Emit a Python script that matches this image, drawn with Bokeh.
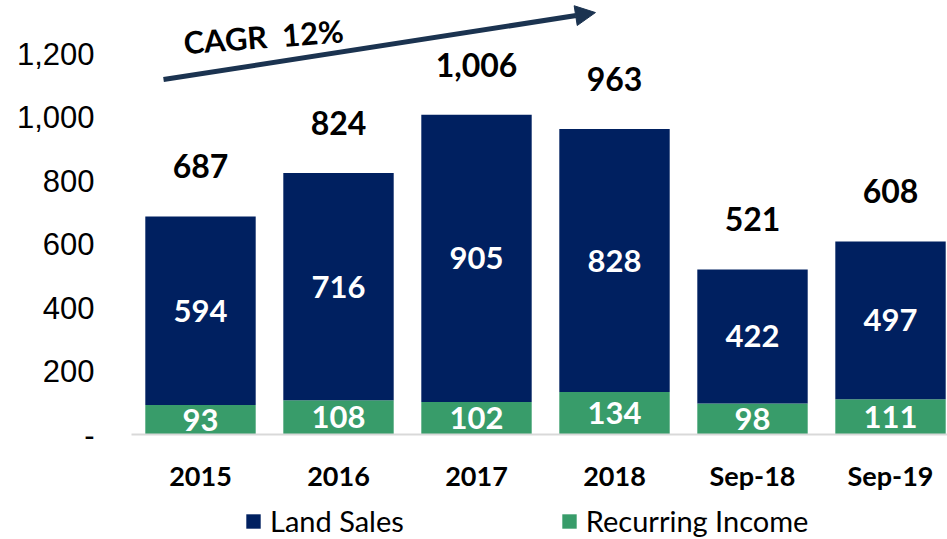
from bokeh.plotting import figure
from bokeh.layouts import column
from bokeh.models import (ColumnDataSource, Legend, LegendItem, FixedTicker,
                          Arrow, NormalHead, Label, Range1d)
from bokeh.core.properties import value
from bokeh.embed import file_html
from bokeh.resources import INLINE

categories = ["2015", "2016", "2017", "2018", "Sep-18", "Sep-19"]
land_sales = [594, 716, 905, 828, 422, 497]
recurring_income = [93, 108, 102, 134, 98, 111]
totals_text = ["687", "824", "1,006", "963", "521", "608"]
y_ticks = [0, 200, 400, 600, 800, 1000, 1200]
y_tick_labels = ["-", "200", "400", "600", "800", "1,000", "1,200"]
cagr_text = "CAGR\u00a0\u00a012%"
series_names = ["Land Sales", "Recurring Income"]

NAVY = "#002060"
GREEN = "#389C6A"
ARROW = "#1B3350"
FONT_B = "Lato"

xs = list(range(len(categories)))
tops = [a + b for a, b in zip(land_sales, recurring_income)]
src = ColumnDataSource(dict(
    x=xs,
    rec=recurring_income,
    land=land_sales,
    top=tops,
    mid_land=[r + l / 2 for r, l in zip(recurring_income, land_sales)],
    mid_rec=[r / 2 for r in recurring_income],
    land_txt=[str(v) for v in land_sales],
    rec_txt=[str(v) for v in recurring_income],
    tot_txt=totals_text,
))

p = figure(width=947, height=497, x_range=Range1d(-0.5, 5.413),
           y_range=Range1d(0, 1367), output_backend="svg",
           toolbar_location=None, min_border_left=131, min_border_right=0,
           min_border_top=0, min_border_bottom=63)
p.outline_line_color = None
p.grid.visible = False

p.vbar(x="x", bottom=0, top="rec", width=0.8, source=src,
       fill_color=GREEN, line_color=None)
p.vbar(x="x", bottom="rec", top="top", width=0.8, source=src,
       fill_color=NAVY, line_color=None)

p.text(x="x", y="mid_land", text="land_txt", source=src, text_color="white",
       text_font=value(FONT_B), text_font_style="bold", text_font_size="31px",
       text_align="center", text_baseline="middle")
p.text(x="x", y="mid_rec", text="rec_txt", source=src, text_color="white",
       text_font=value(FONT_B), text_font_style="bold", text_font_size="31px",
       text_align="center", text_baseline="middle")
p.text(x="x", y="top", text="tot_txt", source=src, text_color="black",
       text_font=value(FONT_B), text_font_style="bold", text_font_size="32px",
       text_align="center", text_baseline="alphabetic", y_offset=-50)

# axes
p.xaxis.ticker = FixedTicker(ticks=xs)
p.xaxis.major_label_overrides = {i: c for i, c in zip(xs, categories)}
p.xaxis.major_tick_line_color = None
p.xaxis.minor_tick_line_color = None
p.xaxis.axis_line_color = "#D9D9D9"
p.xaxis.axis_line_width = 2
p.xaxis.major_label_text_font = FONT_B
p.xaxis.major_label_text_font_style = "bold"
p.xaxis.major_label_text_font_size = "27px"
p.xaxis.major_label_text_color = "black"
p.xaxis.major_label_standoff = 18

p.yaxis.ticker = FixedTicker(ticks=y_ticks)
p.yaxis.major_label_overrides = {t: l for t, l in zip(y_ticks, y_tick_labels)}
p.yaxis.major_tick_line_color = None
p.yaxis.minor_tick_line_color = None
p.yaxis.axis_line_color = None
p.yaxis.major_label_text_font = "Liberation Sans"
p.yaxis.major_label_text_font_size = "31px"
p.yaxis.major_label_text_color = "black"
p.yaxis.major_label_standoff = 31

# CAGR arrow + label
p.add_layout(Arrow(x_start=-0.268, y_start=1118, x_end=2.862, y_end=1329,
                   line_color=ARROW, line_width=5,
                   end=NormalHead(size=20, fill_color=ARROW, line_color=ARROW)))
p.add_layout(Label(x=-0.123, y=1235, text=cagr_text, angle=0.075,
                   text_font=FONT_B, text_font_style="bold",
                   text_font_size="31px", text_color="black",
                   text_baseline="alphabetic"))

# legend strip (its frame is aligned with the chart's frame by the column)
lg = figure(width=947, height=42, x_range=Range1d(0, 1), y_range=Range1d(0, 1),
            output_backend="svg", toolbar_location=None,
            min_border_left=0, min_border_right=0, min_border_top=0,
            min_border_bottom=0)
lg.axis.visible = False
lg.grid.visible = False
lg.outline_line_color = None
# zero-height swatch carriers, only used to draw the legend glyphs
d_land = lg.vbar(x=[0.5], bottom=[0], top=[0], width=0.1,
                 fill_color=NAVY, line_color=None)
d_rec = lg.vbar(x=[0.5], bottom=[0], top=[0], width=0.1,
                fill_color=GREEN, line_color=None)
legend = Legend(items=[LegendItem(label=series_names[0], renderers=[d_land]),
                       LegendItem(label=series_names[1], renderers=[d_rec])],
                orientation="horizontal", location=(113, 1),
                border_line_color=None, background_fill_alpha=0,
                glyph_width=18, glyph_height=18, label_standoff=8,
                spacing=156, padding=0, margin=0,
                label_text_font=FONT_B, label_text_font_size="29px",
                label_text_color="black")
lg.add_layout(legend, "center")

layout = column(p, lg, spacing=0)
open("out.html", "w").write(file_html(layout, INLINE))
